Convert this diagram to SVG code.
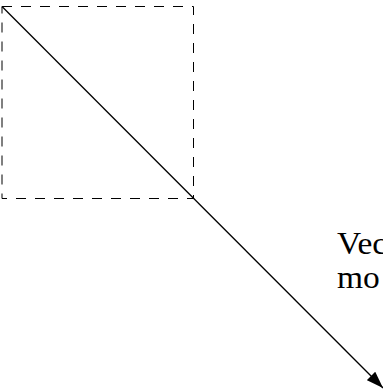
<svg xmlns="http://www.w3.org/2000/svg" width="383" height="389" viewBox="0 0 383 389">
<style>
.box{fill:none;stroke:#000;stroke-width:1;stroke-dasharray:10 9}
.vec{fill:none;stroke:#000;stroke-width:1.3}
.lbl{font-family:"Liberation Serif",serif;font-size:31px;fill:#000}
</style>
<defs>
<marker id="ah" viewBox="0 0 17 12" refX="17" refY="6" markerWidth="17" markerHeight="12" markerUnits="userSpaceOnUse" orient="auto">
<path d="M0,0 L17,6 L0,12 Z" fill="#000"/>
</marker>
</defs>
<g id="box"><rect class="box" x="2" y="6.5" width="191.5" height="192"/></g>
<g id="connectors"><line class="vec" x1="2" y1="6.5" x2="383" y2="388" marker-end="url(#ah)"/></g>
<g id="label"><text class="lbl" transform="matrix(1.08 0 0 1 337 254)">Vec</text><text class="lbl" transform="matrix(1.08 0 0 1 337 288)">mo</text></g>
</svg>
